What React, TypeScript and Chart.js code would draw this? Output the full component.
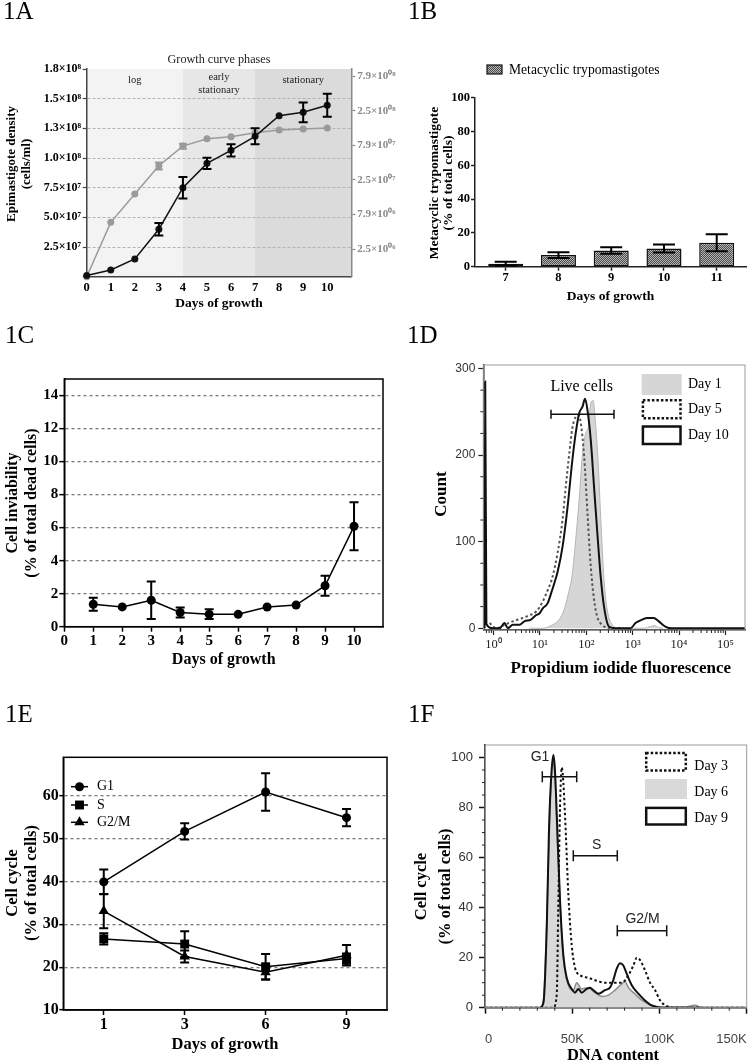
import React, { useEffect, useRef } from 'react';
import { Chart, registerables } from 'chart.js';

Chart.register(...registerables);

const SERIF = "'Liberation Serif', 'Times New Roman', serif";
const SANS = "'Liberation Sans', Arial, sans-serif";
Chart.defaults.font.family = SERIF;
Chart.defaults.color = '#000';

// ================= 1A : growth curve =================
const aDays = [0, 1, 2, 3, 4, 5, 6, 7, 8, 9, 10];
const aDensityLinear = [1.0e6, 5.6e6, 1.49e7, 4.0e7, 7.5e7, 9.55e7, 1.065e8, 1.183e8, 1.356e8, 1.385e8, 1.444e8];
const aDensityLinearErr = [0, 0, 0, 5.2e6, 9.1e6, 4.8e6, 5.2e6, 6.7e6, 0, 8.3e6, 9.7e6];
const aDensityLog = [1.0e6, 6.1e6, 1.57e7, 4.0e7, 7.7e7, 9.8e7, 1.05e8, 1.2e8, 1.32e8, 1.36e8, 1.4e8];
const aDensityLogErr = [0, 0, 0, 4.7e6, 6.5e6, 0, 0, 0, 0, 0, 0];
const aLeftTickValues = [0, 2.5e7, 5e7, 7.5e7, 1e8, 1.25e8, 1.5e8, 1.75e8];
const aLeftTickLabels = ['', '2.5×10⁷', '5.0×10⁷', '7.5×10⁷', '1.0×10⁸', '1.3×10⁸', '1.5×10⁸', '1.8×10⁸'];
const aRightTickValues = [2.5e6, 7.9e6, 2.5e7, 7.9e7, 2.5e8, 7.9e8];
const aRightTickLabels = ['2.5×10⁰⁶', '7.9×10⁰⁶', '2.5×10⁰⁷', '7.9×10⁰⁷', '2.5×10⁰⁸', '7.9×10⁰⁸'];
const aPhaseNames = ['log', 'early\nstationary', 'stationary'];
const aPhaseBounds = [0, 4, 7, 11];
const aPhaseColors = ['#f3f3f3', '#e7e7e7', '#dbdbdb'];

// ================= 1B : metacyclic trypomastigotes =================
const bDays = [7, 8, 9, 10, 11];
const bPercent = [1.8, 6.9, 9.6, 10.8, 14.2];
const bPercentErr = [1.1, 1.7, 1.9, 2.4, 5.0];
const bTickValues = [0, 20, 40, 60, 80, 100];

// ================= 1C : cell inviability =================
const cDays = [1, 2, 3, 4, 5, 6, 7, 8, 9, 10];
const cDead = [1.36, 1.2, 1.6, 0.86, 0.76, 0.75, 1.19, 1.31, 2.48, 6.08];
const cDeadErr = [0.4, 0, 1.13, 0.3, 0.3, 0, 0, 0, 0.6, 1.45];
const cXTicks = [0, 1, 2, 3, 4, 5, 6, 7, 8, 9, 10];
const cYTicks = [0, 2, 4, 6, 8, 10, 12, 14];

// ================= 1D : propidium iodide histograms =================
const dMajorX = [1, 10, 100, 1000, 10000, 100000];
const dMajorLabels = ['10⁰', '10¹', '10²', '10³', '10⁴', '10⁵'];
const dYTicks = [0, 100, 200, 300];
const dNames = ['Day 1', 'Day 5', 'Day 10'];
const day10X = [0.64, 0.66, 0.7, 0.97, 1.35, 1.72, 2.03, 2.6, 3.6, 4.6, 6.4, 8.2, 9.7, 11.5, 14.7, 17.3, 20.4, 24, 30.7, 39.4, 50, 59, 70, 83, 94, 106, 125, 147, 173, 204, 241, 308, 429, 703, 900, 1150, 1600, 2050, 2850, 3650, 5070, 7050, 265000];
const day10Y = [0, 285, 5, 0, 0, 6, 0, 4, 4, 8, 10, 15, 17, 23, 29, 40, 52, 65, 94, 140, 194, 225, 248, 256, 265, 252, 217, 163, 110, 60, 25, 2, 0, 0, 0, 6, 10, 12, 12, 8, 2, 0, 0];
const day5X = [0.82, 1.14, 1.72, 2.6, 4.3, 5.9, 8.2, 11.5, 14.7, 18.8, 24, 30.7, 36, 43, 50, 59, 68, 76, 90, 106, 125, 147, 173, 220, 308, 600];
const day5Y = [6, 0, 4, 8, 12, 15, 19, 31, 44, 60, 87, 125, 163, 202, 231, 244, 246, 237, 198, 133, 71, 33, 13, 4, 0, 0];
const day1X = [5.9, 11.5, 18.8, 26, 33, 41, 50, 59, 70, 83, 97, 111, 125, 140, 160, 182, 204, 241, 283, 364, 510, 1800, 2400, 3000, 3600, 4500];
const day1Y = [0, 0, 4, 10, 21, 40, 63, 102, 148, 202, 225, 233, 260, 263, 233, 187, 129, 56, 21, 4, 0, 0, 2, 3, 1, 0];

// ================= 1E : cell cycle phases =================
const eDays = ['1', '3', '6', '9'];
const eSeriesNames = ['G1', 'S', 'G2/M'];
const eG1 = [39.9, 51.7, 60.9, 54.9];
const eG1Err = [2.9, 1.9, 4.4, 2.0];
const eS = [26.6, 25.4, 20.1, 22.0];
const eSErr = [1.3, 3.0, 3.0, 1.2];
const eG2M = [33.1, 22.5, 18.8, 22.8];
const eG2MErr = [4.0, 1.4, 1.7, 2.4];
const eYTicks = [10, 20, 30, 40, 50, 60];

// ================= 1F : DNA content histograms =================
const fMajorX = [0, 50000, 100000, 150000];
const fMajorLabels = ['0', '50K', '100K', '150K'];
const fYTicks = [0, 20, 40, 60, 80, 100];
const fNames = ['Day 3', 'Day 6', 'Day 9'];
const fGateNames = ['G1', 'S', 'G2/M'];
const day9X = [0, 31500, 33500, 35400, 36700, 38200, 39200, 40100, 41400, 43000, 44900, 46800, 49700, 51600, 53500, 55400, 58300, 60200, 62100, 65000, 68800, 71600, 73500, 75500, 77400, 79300, 81200, 84100, 87900, 91700, 95500, 101300, 150000];
const day9Y = [0, 0, 2, 32, 72, 95, 101, 95, 72, 43, 21, 12, 7.5, 6, 7.5, 6, 7.5, 8, 7, 5.6, 7, 8, 10.9, 15.6, 17.8, 16.9, 13.6, 9, 5.6, 2.9, 0.9, 0, 0];
const day6X = [0, 31500, 33500, 35400, 37300, 38800, 40100, 41600, 43300, 44900, 47800, 50600, 52600, 55400, 59200, 63000, 66900, 70700, 74500, 78400, 80300, 82200, 86000, 89800, 95500, 101000, 115000, 120500, 124000, 150000];
const day6Y = [0, 0, 3, 35, 80, 98, 92, 65, 38, 20, 9, 7, 10, 7.5, 8, 6, 4.5, 5, 7, 9.5, 10.5, 8, 5.5, 3, 1, 0.3, 0.3, 1, 0, 0];
const day3X = [0, 39000, 41100, 42000, 43000, 44000, 44900, 46300, 47800, 49700, 51600, 54500, 59200, 63000, 68800, 74500, 78400, 82200, 85100, 87000, 88900, 91700, 94600, 97500, 100300, 103200, 108900, 150000];
const day3Y = [0, 0, 5, 40, 80, 96, 90, 70, 45, 25, 16, 13, 12, 11, 10, 10, 10, 13, 17, 20, 19, 15, 10, 7, 3, 1, 0, 0];

// ================= helpers =================
const pts = (xs: number[], ys: number[]) => xs.map((x, i) => ({ x, y: ys[i] }));
const CLEAR = 'rgba(0,0,0,0)';

const fixW = (w: number) => (s: any) => {
  s.width = w; s.paddingTop = 0; s.paddingBottom = 0; s.paddingLeft = 0; s.paddingRight = 0;
};
const fixH = (h: number) => (s: any) => {
  s.height = h; s.paddingTop = 0; s.paddingBottom = 0; s.paddingLeft = 0; s.paddingRight = 0;
};
const setTicks = (vals: number[]) => (s: any) => { s.ticks = vals.map((v) => ({ value: v })); };

type Item = { t: string; x: number; y: number; font: string; color?: string; align?: CanvasTextAlign; base?: CanvasTextBaseline; rot?: number };

function drawText(ctx: CanvasRenderingContext2D, it: Item) {
  ctx.save();
  ctx.font = it.font;
  ctx.fillStyle = it.color || '#000';
  ctx.textAlign = it.align || 'center';
  ctx.textBaseline = it.base || 'middle';
  ctx.translate(it.x, it.y);
  if (it.rot) ctx.rotate(it.rot);
  ctx.fillText(it.t, 0, 0);
  ctx.restore();
}

function drawMarker(ctx: CanvasRenderingContext2D, style: string, x: number, y: number, r: number) {
  ctx.beginPath();
  if (style === 'circle') {
    ctx.arc(x, y, r, 0, Math.PI * 2);
  } else if (style === 'rect') {
    const s = r * Math.SQRT1_2;
    ctx.rect(x - s, y - s, 2 * s, 2 * s);
  } else {
    let a = 0;
    ctx.moveTo(x + Math.sin(a) * r, y - Math.cos(a) * r);
    a += (2 * Math.PI) / 3;
    ctx.lineTo(x + Math.sin(a) * r, y - Math.cos(a) * r);
    a += (2 * Math.PI) / 3;
    ctx.lineTo(x + Math.sin(a) * r, y - Math.cos(a) * r);
    ctx.closePath();
  }
  ctx.fill();
}

function gate(ctx: CanvasRenderingContext2D, x1: number, x2: number, y: number, cap: number) {
  ctx.save();
  ctx.strokeStyle = '#111';
  ctx.lineWidth = 1.5;
  ctx.beginPath();
  ctx.moveTo(x1, y); ctx.lineTo(x2, y);
  ctx.moveTo(x1, y - cap); ctx.lineTo(x1, y + cap);
  ctx.moveTo(x2, y - cap); ctx.lineTo(x2, y + cap);
  ctx.stroke();
  ctx.restore();
}

function minorTicks(ctx: CanvasRenderingContext2D, chart: any, axis: 'x' | 'y', values: number[], len: number) {
  const a = chart.chartArea;
  const sc = chart.scales[axis];
  ctx.save();
  ctx.strokeStyle = '#222';
  ctx.lineWidth = 1;
  ctx.beginPath();
  values.forEach((v) => {
    const p = sc.getPixelForValue(v);
    if (axis === 'x') { ctx.moveTo(p, a.bottom); ctx.lineTo(p, a.bottom + len); }
    else { ctx.moveTo(a.left, p); ctx.lineTo(a.left - len, p); }
  });
  ctx.stroke();
  ctx.restore();
}

const errorBars = {
  id: 'errorBars',
  afterDatasetsDraw(chart: any) {
    const ctx = chart.ctx;
    chart.data.datasets.forEach((ds: any, di: number) => {
      if (!ds.errors) return;
      const meta = chart.getDatasetMeta(di);
      const ys = chart.scales[meta.yAxisID];
      ctx.save();
      ctx.strokeStyle = ds.errColor || '#000';
      ctx.lineWidth = ds.errWidth || 2;
      const cap = ds.errCap || 4;
      meta.data.forEach((el: any, i: number) => {
        const e = ds.errors[i];
        if (!e) return;
        const raw = ds.data[i];
        const v = typeof raw === 'number' ? raw : raw.y;
        const x = el.x;
        const yT = ys.getPixelForValue(v + e);
        const yB = ys.getPixelForValue(v - e);
        ctx.beginPath();
        ctx.moveTo(x, yT); ctx.lineTo(x, yB);
        ctx.moveTo(x - cap, yT); ctx.lineTo(x + cap, yT);
        ctx.moveTo(x - cap, yB); ctx.lineTo(x + cap, yB);
        ctx.stroke();
      });
      ctx.restore();
    });
  },
};
Chart.register(errorBars);

type OverlayOpts = {
  bg?: (ctx: CanvasRenderingContext2D, chart: any) => void;
  frame?: { color: string; width: number };
  canvasDraw?: (ctx: CanvasRenderingContext2D, chart: any) => void;
  page?: (ctx: CanvasRenderingContext2D, chart: any) => void;
  items?: Item[];
};

function overlay(ox: number, oy: number, o: OverlayOpts) {
  return {
    id: 'overlay',
    beforeDraw(chart: any) {
      if (o.bg) { chart.ctx.save(); o.bg(chart.ctx, chart); chart.ctx.restore(); }
    },
    afterDraw(chart: any) {
      const ctx = chart.ctx as CanvasRenderingContext2D;
      if (o.frame) {
        const a = chart.chartArea;
        ctx.save();
        ctx.strokeStyle = o.frame.color;
        ctx.lineWidth = o.frame.width;
        ctx.strokeRect(a.left, a.top, a.right - a.left, a.bottom - a.top);
        ctx.restore();
      }
      if (o.canvasDraw) o.canvasDraw(ctx, chart);
      ctx.save();
      ctx.translate(-ox, -oy);
      if (o.page) o.page(ctx, chart);
      (o.items || []).forEach((it) => drawText(ctx, it));
      ctx.restore();
    },
  };
}

const baseOpts = {
  responsive: false,
  animation: false as const,
  events: [] as any[],
  plugins: { legend: { display: false }, tooltip: { enabled: false } },
};

const R90 = -Math.PI / 2;
const bold = (s: number, f = SERIF) => `bold ${s}px ${f}`;
const reg = (s: number, f = SERIF) => `${s}px ${f}`;

// ================= chart builders =================
function makeA(canvas: HTMLCanvasElement) {
  const OX = 0, OY = 0;
  return new Chart(canvas, {
    type: 'line',
    data: {
      datasets: [
        { data: pts(aDays, aDensityLinear), yAxisID: 'y', borderColor: '#111', backgroundColor: '#111', borderWidth: 1.5, pointRadius: 3.5, pointBorderWidth: 0, clip: false, errors: aDensityLinearErr, errCap: 4.5, errWidth: 2 } as any,
        { data: pts(aDays, aDensityLog), yAxisID: 'y2', borderColor: '#9a9a9a', backgroundColor: '#9a9a9a', borderWidth: 1.5, pointRadius: 3.5, pointBorderWidth: 0, clip: false, errors: aDensityLogErr, errColor: '#9a9a9a', errCap: 4, errWidth: 2 } as any,
      ],
    },
    options: {
      ...baseOpts,
      layout: { padding: { left: 0, top: 69, right: 0, bottom: 0 } },
      scales: {
        x: {
          type: 'linear', min: 0, max: 11, afterBuildTicks: setTicks(aDays), afterFit: fixH(38.3),
          grid: { display: false, drawTicks: false }, border: { color: '#444', width: 1.5 },
          ticks: { autoSkip: false, maxRotation: 0, padding: 3.8, font: { size: 12.5, weight: 'bold' } },
        },
        y: {
          type: 'linear', position: 'left', min: 0, max: 1.75e8, afterBuildTicks: setTicks(aLeftTickValues), afterFit: fixW(86.7),
          grid: { color: (c: any) => (c.tick && (c.tick.value === 0 || c.tick.value >= 1.75e8) ? CLEAR : '#b3b3b3'), lineWidth: 1, tickLength: 4, tickColor: '#444', tickWidth: 1.2 },
          border: { color: '#444', width: 1.5, dash: [3, 2] },
          ticks: { autoSkip: false, padding: 1.5, font: { size: 12, weight: 'bold' }, callback: (_v: any, i: number) => aLeftTickLabels[i] },
        },
        y2: {
          type: 'logarithmic', position: 'right', min: 1e6, max: 1e9, afterBuildTicks: setTicks(aRightTickValues), afterFit: fixW(53.7),
          grid: { drawOnChartArea: false, tickLength: 4, tickColor: '#888', tickWidth: 1.2 },
          border: { color: '#888', width: 1.5 },
          ticks: { autoSkip: false, padding: 2, color: '#888', font: { size: 11, weight: 'bold' }, callback: (_v: any, i: number) => aRightTickLabels[i] },
        },
      } as any,
    },
    plugins: [
      overlay(OX, OY, {
        bg: (ctx, chart) => {
          const xs = chart.scales.x, a = chart.chartArea;
          for (let i = 0; i < aPhaseBounds.length - 1; i++) {
            const x0 = xs.getPixelForValue(aPhaseBounds[i]);
            const x1 = xs.getPixelForValue(aPhaseBounds[i + 1]);
            ctx.fillStyle = aPhaseColors[i];
            ctx.fillRect(x0, a.top, x1 - x0, a.bottom - a.top);
          }
        },
        page: (ctx, chart) => {
          const xs = chart.scales.x;
          aPhaseNames.forEach((name, i) => {
            const cx = xs.getPixelForValue((aPhaseBounds[i] + aPhaseBounds[i + 1]) / 2) + OX;
            const lines = name.split('\n');
            lines.forEach((ln, k) => {
              const y = lines.length === 1 ? 80 : 77 + k * 13;
              drawText(ctx, { t: ln, x: cx, y, font: reg(10.5), color: '#222' });
            });
          });
        },
        items: [
          { t: '1A', x: 3, y: 19, font: reg(25), align: 'left', base: 'alphabetic' },
          { t: 'Growth curve phases', x: 219, y: 60, font: reg(12.2), color: '#222' },
          { t: 'Epimastigote density', x: 11.5, y: 164, font: bold(13), rot: R90 },
          { t: '(cells/ml)', x: 26.5, y: 164, font: bold(13), rot: R90 },
          { t: 'Days of growth', x: 219, y: 304, font: bold(13.5) },
        ],
      }),
    ],
  });
}

function makeB(canvas: HTMLCanvasElement) {
  const OX = 405, OY = 0;
  const tile = document.createElement('canvas');
  tile.width = 2; tile.height = 2;
  const tg = tile.getContext('2d')!;
  tg.fillStyle = '#b5b5b5'; tg.fillRect(0, 0, 2, 2);
  tg.fillStyle = '#4a4a4a'; tg.fillRect(0, 0, 1, 1); tg.fillRect(1, 1, 1, 1);
  const pat = canvas.getContext('2d')!.createPattern(tile, 'repeat')!;
  return new Chart(canvas, {
    type: 'bar',
    data: {
      datasets: [
        { data: pts(bDays, bPercent), backgroundColor: pat, borderColor: '#111', borderWidth: 1.5, borderSkipped: false, barPercentage: 0.664, categoryPercentage: 1, errors: bPercentErr, errCap: 11, errWidth: 2 } as any,
      ],
    },
    options: {
      ...baseOpts,
      layout: { padding: { left: 0, top: 97.7, right: 4, bottom: 0 } },
      scales: {
        x: {
          type: 'linear', offset: false, min: 6.418, max: 11.555, afterBuildTicks: setTicks(bDays), afterFit: fixH(48.3),
          grid: { offset: false, drawOnChartArea: false, tickLength: 4, tickColor: '#222', tickWidth: 1.5 },
          border: { color: '#222', width: 1.5 },
          ticks: { autoSkip: false, maxRotation: 0, padding: 0, font: { size: 12.5, weight: 'bold' } },
        },
        y: {
          min: 0, max: 100, afterBuildTicks: setTicks(bTickValues), afterFit: fixW(70),
          grid: { drawOnChartArea: false, tickLength: 4, tickColor: '#222', tickWidth: 1.5 },
          border: { color: '#222', width: 1.5 },
          ticks: { autoSkip: false, padding: 1, font: { size: 12.5, weight: 'bold' } },
        },
      } as any,
    },
    plugins: [
      overlay(OX, OY, {
        page: (ctx) => {
          ctx.save();
          ctx.fillStyle = pat;
          ctx.fillRect(487, 65, 15, 9);
          ctx.strokeStyle = '#111';
          ctx.lineWidth = 1.2;
          ctx.strokeRect(487, 65, 15, 9);
          ctx.restore();
        },
        items: [
          { t: '1B', x: 408, y: 19, font: reg(25), align: 'left', base: 'alphabetic' },
          { t: 'Metacyclic trypomastigotes', x: 509, y: 70, font: reg(13.6), align: 'left' },
          { t: 'Metacyclic trypomastigote', x: 435, y: 183, font: bold(13.5), rot: R90 },
          { t: '(% of total cells)', x: 448.5, y: 183, font: bold(13.5), rot: R90 },
          { t: 'Days of growth', x: 610.5, y: 297, font: bold(13.5) },
        ],
      }),
    ],
  });
}

function makeC(canvas: HTMLCanvasElement) {
  const OX = 0, OY = 315;
  return new Chart(canvas, {
    type: 'line',
    data: {
      datasets: [
        { data: pts(cDays, cDead), borderColor: '#000', backgroundColor: '#000', borderWidth: 1.5, pointRadius: 4.5, pointBorderWidth: 0, clip: false, errors: cDeadErr, errCap: 4.5, errWidth: 2 } as any,
      ],
    },
    options: {
      ...baseOpts,
      layout: { padding: { left: 0, top: 64, right: 12, bottom: 0 } },
      scales: {
        x: {
          type: 'linear', min: 0, max: 11, afterBuildTicks: setTicks(cXTicks), afterFit: fixH(48.3),
          grid: { drawOnChartArea: false, tickLength: 5, tickColor: '#000', tickWidth: 1.5 },
          border: { color: '#000', width: 1.5 },
          ticks: { autoSkip: false, maxRotation: 0, padding: 0, font: { size: 15, weight: 'bold' } },
        },
        y: {
          min: 0, max: 15, afterBuildTicks: setTicks(cYTicks), afterFit: fixW(64.3),
          grid: { color: (c: any) => (c.tick && c.tick.value === 0 ? CLEAR : '#7a7a7a'), lineWidth: 1.3, tickLength: 5, tickColor: '#000', tickWidth: 1.5 },
          border: { color: '#000', width: 1.5, dash: [3, 3] },
          ticks: { autoSkip: false, padding: 1, font: { size: 15, weight: 'bold' } },
        },
      } as any,
    },
    plugins: [
      overlay(OX, OY, {
        frame: { color: '#000', width: 1.5 },
        items: [
          { t: '1C', x: 5, y: 343, font: reg(25), align: 'left', base: 'alphabetic' },
          { t: 'Cell inviability', x: 13, y: 503, font: bold(16), rot: R90 },
          { t: '(% of total dead cells)', x: 31.5, y: 503, font: bold(16), rot: R90 },
          { t: 'Days of growth', x: 223.7, y: 660, font: bold(16) },
        ],
      }),
    ],
  });
}

function makeD(canvas: HTMLCanvasElement) {
  const OX = 395, OY = 315;
  const xMinor: number[] = [];
  [0.1, 1, 10, 100, 1000, 10000].forEach((dec) => {
    for (let m = 2; m <= 9; m++) { const v = m * dec; if (v > 0.63 && v < 2.65e5) xMinor.push(v); }
  });
  const yMinor: number[] = [];
  for (let v = 25; v < 304; v += 25) if (v % 100 !== 0) yMinor.push(v);
  return new Chart(canvas, {
    type: 'line',
    data: {
      datasets: [
        { data: pts(day10X, day10Y), borderColor: '#111', borderWidth: 2, pointRadius: 0, cubicInterpolationMode: 'monotone', fill: false },
        { data: pts(day5X, day5Y), borderColor: '#555', borderWidth: 2, borderDash: [2.5, 2.5], pointRadius: 0, cubicInterpolationMode: 'monotone', fill: false },
        { data: pts(day1X, day1Y), borderColor: '#b5b5b5', backgroundColor: '#d6d6d6', borderWidth: 1, pointRadius: 0, cubicInterpolationMode: 'monotone', fill: 'origin' },
      ] as any,
    },
    options: {
      ...baseOpts,
      layout: { padding: { left: 0, top: 50, right: 5, bottom: 0 } },
      scales: {
        x: {
          type: 'logarithmic', min: 0.63, max: 2.65e5, afterBuildTicks: setTicks(dMajorX), afterFit: fixH(57),
          grid: { drawOnChartArea: false, tickLength: 5, tickColor: '#222', tickWidth: 1.2 },
          border: { color: '#222', width: 1.5 },
          ticks: { autoSkip: false, maxRotation: 0, padding: 2.5, color: '#222', font: { size: 12.5 }, callback: (_v: any, i: number) => dMajorLabels[i] },
        },
        y: {
          min: -2, max: 304, afterBuildTicks: setTicks(dYTicks), afterFit: fixW(88.3),
          grid: { drawOnChartArea: false, tickLength: 5, tickColor: '#222', tickWidth: 1.2 },
          border: { color: '#222', width: 1.5 },
          ticks: { autoSkip: false, padding: 3, color: '#333', font: { size: 12, family: SANS } },
        },
      } as any,
    },
    plugins: [
      overlay(OX, OY, {
        frame: { color: '#9a9a9a', width: 1 },
        canvasDraw: (ctx, chart) => {
          minorTicks(ctx, chart, 'x', xMinor, 3);
          minorTicks(ctx, chart, 'y', yMinor, 3);
        },
        page: (ctx) => {
          gate(ctx, 551, 614, 414.3, 4.5);
          ctx.save();
          ctx.fillStyle = '#d6d6d6';
          ctx.fillRect(641.7, 374, 40, 21);
          ctx.strokeStyle = '#111';
          ctx.lineWidth = 2.5;
          ctx.setLineDash([2.5, 2]);
          ctx.strokeRect(642.9, 400.3, 37.6, 18);
          ctx.setLineDash([]);
          ctx.strokeRect(642.9, 426.5, 37.6, 17.5);
          ctx.restore();
        },
        items: [
          { t: '1D', x: 407, y: 343, font: reg(25), align: 'left', base: 'alphabetic' },
          { t: 'Count', x: 441.7, y: 494, font: bold(17), rot: R90 },
          { t: 'Propidium iodide fluorescence', x: 620.8, y: 669, font: bold(17) },
          { t: 'Live cells', x: 581.7, y: 387, font: reg(16) },
          { t: dNames[0], x: 688, y: 384.5, font: reg(14), align: 'left' },
          { t: dNames[1], x: 688, y: 409.5, font: reg(14), align: 'left' },
          { t: dNames[2], x: 688, y: 435.5, font: reg(14), align: 'left' },
        ],
      }),
    ],
  });
}

function makeE(canvas: HTMLCanvasElement) {
  const OX = 0, OY = 675;
  const styles = ['circle', 'rect', 'triangle'];
  const radii = [4.5, 6.3, 6];
  const mk = (data: number[], err: number[], i: number) => ({
    data, borderColor: '#000', backgroundColor: '#000', borderWidth: 1.5, pointStyle: styles[i], pointRadius: radii[i], pointBorderWidth: 0, clip: false, errors: err, errCap: 4.5, errWidth: 2,
  });
  return new Chart(canvas, {
    type: 'line',
    data: {
      labels: eDays,
      datasets: [mk(eG1, eG1Err, 0), mk(eS, eSErr, 1), mk(eG2M, eG2MErr, 2)] as any,
    },
    options: {
      ...baseOpts,
      layout: { padding: { left: 0, top: 82.3, right: 8, bottom: 0 } },
      scales: {
        x: {
          type: 'category', offset: true, afterFit: fixH(52),
          grid: { offset: false, drawOnChartArea: false, tickLength: 5, tickColor: '#000', tickWidth: 1.5 },
          border: { color: '#000', width: 1.5 },
          ticks: { autoSkip: false, maxRotation: 0, padding: 0.4, font: { size: 16, weight: 'bold' } },
        },
        y: {
          min: 10, max: 69, afterBuildTicks: setTicks(eYTicks), afterFit: fixW(63.3),
          grid: { color: (c: any) => (c.tick && c.tick.value === 10 ? CLEAR : '#7a7a7a'), lineWidth: 1.3, tickLength: 4, tickColor: '#000', tickWidth: 1.5 },
          border: { color: '#000', width: 1.5, dash: [3, 3] },
          ticks: { autoSkip: false, padding: 0.5, font: { size: 16, weight: 'bold' } },
        },
      } as any,
    },
    plugins: [
      overlay(OX, OY, {
        frame: { color: '#000', width: 1.5 },
        page: (ctx) => {
          const ly = [786.7, 805, 822.3];
          ctx.save();
          ctx.strokeStyle = '#000';
          ctx.fillStyle = '#000';
          ctx.lineWidth = 1.5;
          ly.forEach((y, i) => {
            ctx.beginPath(); ctx.moveTo(71, y); ctx.lineTo(88, y); ctx.stroke();
            drawMarker(ctx, styles[i], 79.5, y, radii[i]);
            drawText(ctx, { t: eSeriesNames[i], x: 97, y, font: reg(14), align: 'left' });
          });
          ctx.restore();
        },
        items: [
          { t: '1E', x: 5, y: 722, font: reg(25), align: 'left', base: 'alphabetic' },
          { t: 'Cell cycle', x: 13, y: 883, font: bold(16.5), rot: R90 },
          { t: '(% of total cells)', x: 32, y: 883, font: bold(16.5), rot: R90 },
          { t: 'Days of growth', x: 225, y: 1045, font: bold(16.5) },
        ],
      }),
    ],
  });
}

function makeF(canvas: HTMLCanvasElement) {
  const OX = 395, OY = 675;
  const xMinor: number[] = [];
  for (let v = 10000; v < 150000; v += 10000) if (v % 50000 !== 0) xMinor.push(v);
  const yMinor: number[] = [];
  for (let v = 5; v <= 100; v += 5) if (v % 20 !== 0) yMinor.push(v);
  return new Chart(canvas, {
    type: 'line',
    data: {
      datasets: [
        { data: pts(day9X, day9Y), borderColor: '#111', borderWidth: 2, pointRadius: 0, cubicInterpolationMode: 'monotone', fill: false },
        { data: pts(day3X, day3Y), borderColor: '#111', borderWidth: 2, borderDash: [2.5, 2.5], pointRadius: 0, cubicInterpolationMode: 'monotone', fill: false },
        { data: pts(day6X, day6Y), borderColor: '#8c8c8c', backgroundColor: '#d9d9d9', borderWidth: 1.5, pointRadius: 0, cubicInterpolationMode: 'monotone', fill: 'origin' },
      ] as any,
    },
    options: {
      ...baseOpts,
      layout: { padding: { left: 0, top: 70, right: 3.3, bottom: 0 } },
      scales: {
        x: {
          type: 'linear', min: 0, max: 150000, afterBuildTicks: setTicks(fMajorX), afterFit: fixH(54.3),
          grid: { drawOnChartArea: false, tickLength: 6, tickColor: '#111', tickWidth: 1.5 },
          border: { color: '#111', width: 1.5 },
          ticks: { autoSkip: false, maxRotation: 0, align: 'inner', padding: 17.5, color: '#444', font: { size: 13, family: SANS }, callback: (_v: any, i: number) => fMajorLabels[i] },
        },
        y: {
          min: 0, max: 105, afterBuildTicks: setTicks(fYTicks), afterFit: fixW(90),
          grid: { drawOnChartArea: false, tickLength: 6, tickColor: '#111', tickWidth: 1.5 },
          border: { color: '#111', width: 1.5 },
          ticks: { autoSkip: false, padding: 6, color: '#333', font: { size: 13, family: SANS } },
        },
      } as any,
    },
    plugins: [
      overlay(OX, OY, {
        frame: { color: '#9a9a9a', width: 1 },
        canvasDraw: (ctx, chart) => {
          minorTicks(ctx, chart, 'x', xMinor, 3);
          minorTicks(ctx, chart, 'y', yMinor, 3);
        },
        page: (ctx) => {
          gate(ctx, 542.3, 576.7, 776.7, 5.5);
          gate(ctx, 573.3, 617.3, 855.7, 5.5);
          gate(ctx, 617.3, 666.7, 930.7, 5.5);
          ctx.save();
          ctx.strokeStyle = '#111';
          ctx.lineWidth = 2.5;
          ctx.setLineDash([2.5, 2]);
          ctx.strokeRect(646.2, 752.9, 39.6, 17.6);
          ctx.setLineDash([]);
          ctx.fillStyle = '#d9d9d9';
          ctx.fillRect(645, 779, 42, 20);
          ctx.strokeRect(646.2, 807.9, 39.6, 16.6);
          ctx.restore();
        },
        items: [
          { t: '1F', x: 408, y: 722, font: reg(25), align: 'left', base: 'alphabetic' },
          { t: 'Cell cycle', x: 421.7, y: 886.5, font: bold(16.5), rot: R90 },
          { t: '(% of total cells)', x: 446, y: 886.5, font: bold(16.5), rot: R90 },
          { t: 'DNA content', x: 613, y: 1055.5, font: bold(16.5) },
          { t: fNames[0], x: 694.3, y: 766, font: reg(14), align: 'left' },
          { t: fNames[1], x: 694.3, y: 792, font: reg(14), align: 'left' },
          { t: fNames[2], x: 694.3, y: 818, font: reg(14), align: 'left' },
          { t: fGateNames[0], x: 540, y: 757, font: reg(14, SANS), color: '#222' },
          { t: fGateNames[1], x: 596.7, y: 845, font: reg(14, SANS), color: '#222' },
          { t: fGateNames[2], x: 642.5, y: 919.5, font: reg(14, SANS), color: '#222' },
        ],
      }),
    ],
  });
}

function Panel({ x, y, w, h, make }: { x: number; y: number; w: number; h: number; make: (c: HTMLCanvasElement) => Chart }) {
  const ref = useRef<HTMLCanvasElement>(null);
  useEffect(() => {
    if (!ref.current) return;
    const chart = make(ref.current);
    return () => chart.destroy();
  }, [make]);
  return (
    <canvas
      ref={ref}
      width={w}
      height={h}
      style={{ position: 'absolute', left: x, top: y, width: w, height: h, display: 'block' }}
    />
  );
}

export default function App() {
  useEffect(() => {
    document.body.style.overflow = 'hidden';
  }, []);
  return (
    <div style={{ position: 'absolute', left: 0, top: 0, width: 750, height: 1062, overflow: 'hidden', background: '#fff' }}>
      <Panel x={0} y={0} w={405} h={315} make={makeA} />
      <Panel x={405} y={0} w={345} h={315} make={makeB} />
      <Panel x={0} y={315} w={395} h={360} make={makeC} />
      <Panel x={395} y={315} w={355} h={372} make={makeD} />
      <Panel x={0} y={675} w={395} h={387} make={makeE} />
      <Panel x={395} y={675} w={355} h={387} make={makeF} />
    </div>
  );
}
